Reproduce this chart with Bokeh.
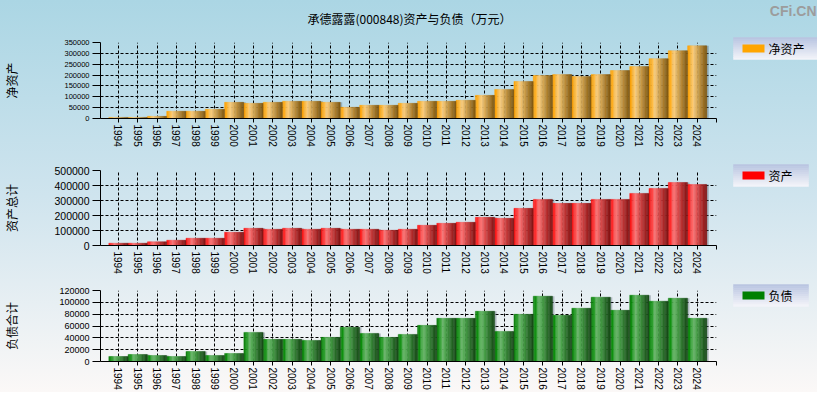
from bokeh.plotting import figure
from bokeh.layouts import column, row
from bokeh.models import Range1d, FixedTicker, NumeralTickFormatter, Label
from bokeh.embed import file_html
from bokeh.resources import INLINE

# ---------------- data ----------------
years = ["1994", "1995", "1996", "1997", "1998", "1999", "2000", "2001", "2002",
         "2003", "2004", "2005", "2006", "2007", "2008", "2009", "2010", "2011",
         "2012", "2013", "2014", "2015", "2016", "2017", "2018", "2019", "2020",
         "2021", "2022", "2023", "2024"]
net_assets = [5000, 5000, 10000, 33500, 33500, 42600, 74600, 70000, 74600, 79100,
              79100, 74600, 51700, 60900, 60900, 70000, 79100, 79100, 83700,
              106500, 134000, 170500, 197900, 202400, 193300, 202400, 220700,
              239000, 275500, 312000, 334800]
total_assets = [15500, 15500, 24300, 35400, 48700, 48700, 88500, 115000, 108400,
                115000, 108400, 115000, 108400, 108400, 101800, 108400, 135000,
                148200, 154800, 188000, 181400, 247700, 307500, 281000, 281000,
                307500, 307500, 347300, 380500, 420300, 407000]
liabilities = [8500, 11900, 10200, 8500, 17000, 10200, 13600, 49200, 37400, 37400,
               35700, 40800, 57700, 47500, 40800, 45800, 61100, 73000, 73000,
               84900, 50900, 79800, 110400, 78100, 90000, 108700, 86600, 112100,
               101900, 107000, 73000]
net_ticks = [0, 50000, 100000, 150000, 200000, 250000, 300000, 350000]
asset_ticks = [0, 100000, 200000, 300000, 400000, 500000]
liab_ticks = [0, 20000, 40000, 60000, 80000, 100000, 120000]

title_text = "承德露露(000848)资产与负债（万元）"
watermark = "CFi.CN"
legend_labels = ["净资产", "资产", "负债"]
legend_colors = ["#ffa500", "#ff0000", "#008000"]

CJK = "Noto Sans CJK SC"
LAT = "Liberation Sans"
N_STRIPS = 14
TW = 817   # total width
CW = 717   # chart figure width
SW = TW - CW
HH = 30    # header height
H1, H2, H3 = 122, 125, 115
HT = HH + H1 + H2 + H3   # 392


def hex2rgb(h):
    h = h.lstrip("#")
    return tuple(int(h[i:i + 2], 16) for i in (0, 2, 4))


def mix(c0, c1, f):
    a, b = hex2rgb(c0), hex2rgb(c1)
    return "#%02x%02x%02x" % tuple(int(round(a[i] + (b[i] - a[i]) * f)) for i in range(3))


def grad_color(stops, t):
    for (t0, c0), (t1, c1) in zip(stops[:-1], stops[1:]):
        if t0 <= t <= t1:
            return mix(c0, c1, (t - t0) / (t1 - t0) if t1 > t0 else 0)
    return stops[-1][1]


orange_stops = [(0.0, "#ffa000"), (0.12, "#ffb020"), (0.3, "#ffd080"),
                (0.5, "#dcae5a"), (0.75, "#ad7f2e"), (1.0, "#7d5610")]
red_stops = [(0.0, "#ff1010"), (0.12, "#ff2a2a"), (0.3, "#ff7878"),
             (0.5, "#e05050"), (0.75, "#b02a2a"), (1.0, "#801414")]
green_stops = [(0.0, "#1a7a1a"), (0.12, "#0a900a"), (0.3, "#6cb86c"),
               (0.5, "#48a048"), (0.75, "#2a6e2a"), (1.0, "#164816")]


def bare(fig):
    fig.border_fill_color = None
    fig.background_fill_color = None
    fig.outline_line_color = None
    try:
        fig.frame_align = False
    except Exception:
        pass


def make_fig(values, ticks, height, top_b, bottom_b, stops, ytick_size, axis_title,
             label_standoff):
    p = figure(width=CW, height=height, output_backend="svg", toolbar_location=None,
               x_range=Range1d(-0.93, 31), y_range=Range1d(0, ticks[-1]),
               min_border_left=99, min_border_right=1,
               min_border_top=top_b, min_border_bottom=bottom_b)
    p.border_fill_color = None
    p.background_fill_color = None
    p.outline_line_color = None

    idx = list(range(len(years)))
    # shadow
    p.vbar(x=[i + 0.1 for i in idx], top=values, width=1.0, bottom=0,
           fill_color="#4a5a66", fill_alpha=0.35, line_color=None)
    # gradient bars made of vertical strips
    for k in range(N_STRIPS):
        t = (k + 0.5) / N_STRIPS
        c = grad_color(stops, t)
        off = -0.5 + (k + 0.5) / N_STRIPS
        p.vbar(x=[i + off for i in idx], top=values, width=1.0 / N_STRIPS, bottom=0,
               fill_color=c, line_color=c, line_width=0.4)

    xt = FixedTicker(ticks=idx + [31])
    p.xaxis.ticker = xt
    overrides = {i: years[i] for i in idx}
    overrides[31] = ""
    p.xaxis.major_label_overrides = overrides
    p.xaxis.major_label_orientation = "vertical"
    p.xaxis.major_label_text_font = LAT
    p.xaxis.major_label_text_font_size = "10px"
    p.xaxis.major_label_text_color = "black"
    p.xaxis.major_tick_out = 4
    p.xaxis.major_tick_in = 0
    p.xaxis.major_label_standoff = 2
    p.xaxis.minor_tick_line_color = None
    p.xaxis.axis_line_color = "black"
    p.xaxis.major_tick_line_color = "black"

    p.yaxis.ticker = FixedTicker(ticks=ticks)
    p.yaxis.formatter = NumeralTickFormatter(format="0")
    p.yaxis.major_label_text_font = LAT
    p.yaxis.major_label_text_font_size = ytick_size
    p.yaxis.major_label_text_color = "black"
    p.yaxis.major_tick_out = 8
    p.yaxis.major_tick_in = 0
    p.yaxis.major_label_standoff = 3
    p.yaxis.minor_tick_line_color = None
    p.yaxis.axis_line_color = "black"
    p.yaxis.major_tick_line_color = "black"
    p.yaxis.axis_label = axis_title
    p.yaxis.axis_label_text_font = CJK
    p.yaxis.axis_label_text_font_size = "12px"
    p.yaxis.axis_label_text_font_style = "normal"
    p.yaxis.axis_label_text_color = "black"
    p.yaxis.axis_label_standoff = label_standoff

    for g in (p.xgrid, p.ygrid):
        g.grid_line_color = "black"
        g.grid_line_dash = "3 2"
        g.grid_line_width = 1
        g.grid_line_alpha = 1
    p.xgrid.ticker = xt
    return p


p1 = make_fig(net_assets, net_ticks, H1, 42 - HH, 34, orange_stops, "7.5px", "净资产", 41)
p2 = make_fig(total_assets, asset_ticks, H2, 18, 32, red_stops, "10.5px", "资产总计", 31)
p3 = make_fig(liabilities, liab_ticks, H3, 13, 31, green_stops, "9px", "负债合计", 36)

# ---- header strip: title and watermark ----
header = figure(width=TW, height=HH, output_backend="svg", toolbar_location=None,
                x_range=Range1d(0, TW), y_range=Range1d(0, HH),
                x_axis_type=None, y_axis_type=None,
                min_border_left=0, min_border_right=0,
                min_border_top=0, min_border_bottom=0)
bare(header)
header.add_layout(Label(x=409, y=HH - 18, text=title_text, text_align="center",
                        text_baseline="middle", text_font=CJK,
                        text_font_size="12px", text_color="black"))
header.add_layout(Label(x=TW - 1, y=HH - 10, text=watermark, text_align="right",
                        text_baseline="middle", text_font=LAT,
                        text_font_size="14px", text_font_style="bold",
                        text_color="#9c9c9c"))

# ---- side strip holding the legend boxes (pixel coordinates, y up) ----
SH = HT - HH
side = figure(width=SW, height=SH, output_backend="svg", toolbar_location=None,
              x_range=Range1d(0, SW), y_range=Range1d(0, SH),
              x_axis_type=None, y_axis_type=None,
              min_border_left=0, min_border_right=0,
              min_border_top=0, min_border_bottom=0)
bare(side)

box_tops = [37, 164, 284]      # page y of the legend box top edges
box_rights = [SW, 91, 91]
BOX_H = 22
N_BANDS = 11
for lab, col, top, right in zip(legend_labels, legend_colors, box_tops, box_rights):
    # gradient box background
    bl, br, bb, bt, bc = [], [], [], [], []
    for k in range(N_BANDS):
        y0 = top + BOX_H * k / N_BANDS
        y1 = top + BOX_H * (k + 1) / N_BANDS
        bl.append(16)
        br.append(right)
        bt.append(HT - y0)
        bb.append(HT - y1)
        bc.append(mix("#b7c3e0", "#f5f5fa", (k + 0.5) / N_BANDS))
    side.quad(left=bl, right=br, bottom=bb, top=bt, fill_color=bc, line_color=bc,
              line_width=0.5)
    # swatch
    side.quad(left=[25], right=[47], top=[HT - (top + 7)], bottom=[HT - (top + 15)],
              fill_color=col, line_color=None)
    # label
    side.add_layout(Label(x=51, y=HT - (top + 11), text=lab, text_align="left",
                          text_baseline="middle", text_font=CJK,
                          text_font_size="12px", text_color="black"))

layout = column(header, row(column(p1, p2, p3, spacing=0), side, spacing=0), spacing=0,
                styles={"background": "linear-gradient(to bottom, #abd6e4 0%, #cfe4ee 50%, #fbf8f7 100%)"})

open("out.html", "w").write(file_html(layout, INLINE))
